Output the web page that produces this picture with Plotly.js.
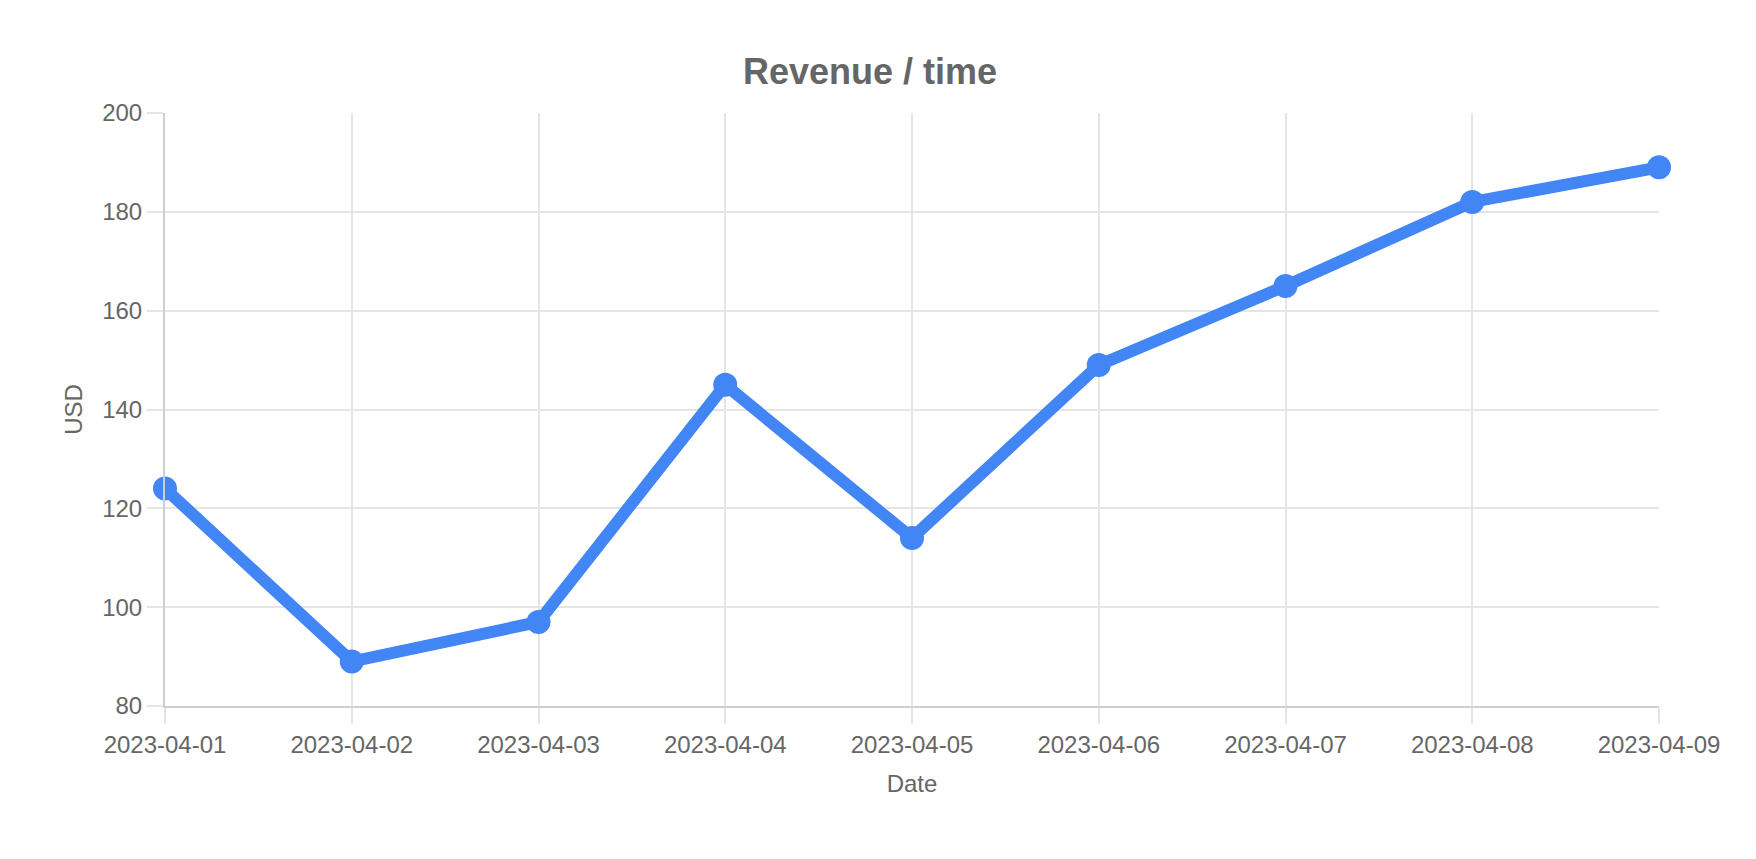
<!DOCTYPE html>
<html>
<head>
<meta charset="utf-8">
<script src="https://cdn.plot.ly/plotly-3.0.1.min.js"></script>
<style>
  html, body { margin: 0; padding: 0; background: #fff; }
  #chart { width: 1756px; height: 859px; }
</style>
</head>
<body>
<div id="chart"></div>
<script>
var dates = ['2023-04-01', '2023-04-02', '2023-04-03', '2023-04-04', '2023-04-05',
             '2023-04-06', '2023-04-07', '2023-04-08', '2023-04-09'];
var revenue = [124, 89, 97, 145, 114, 149, 165, 182, 189];
var yTicks = [80, 100, 120, 140, 160, 180, 200];

var config = { displayModeBar: false, displaylogo: false, staticPlot: true };

var data = [{
    x: dates,
    y: revenue,
    type: 'scatter',
    mode: 'lines+markers',
    line: { color: '#4285F4', width: 12 },
    marker: { color: '#4285F4', size: 24 },
    cliponaxis: false
}];

var layout = {
    width: 1756,
    height: 859,
    margin: { l: 165, r: 97, t: 113, b: 153 },
    paper_bgcolor: '#fff',
    plot_bgcolor: '#fff',
    font: { family: 'Liberation Sans, Arial, sans-serif', size: 24, color: '#666' },
    showlegend: false,
    title: {
        text: '<b>Revenue / time</b>',
        font: { size: 36, color: '#666' },
        x: 0.4955, xanchor: 'center',
        y: 0.917, yanchor: 'middle'
    },
    xaxis: {
        type: 'category',
        range: [0, dates.length - 1],
        showgrid: true,
        gridcolor: '#e5e5e5',
        gridwidth: 2,
        showline: true,
        linecolor: '#cfcfcf',
        linewidth: 2,
        ticks: 'outside',
        ticklen: 16,
        tickwidth: 2,
        tickcolor: '#e5e5e5',
        tickfont: { size: 24, color: '#666' },
        title: { text: 'Date', font: { size: 24, color: '#666' }, standoff: 18 },
        zeroline: false
    },
    yaxis: {
        range: [80, 200],
        tickvals: yTicks,
        showgrid: true,
        gridcolor: '#e5e5e5',
        gridwidth: 2,
        showline: true,
        linecolor: '#cfcfcf',
        linewidth: 2,
        ticks: 'outside',
        ticklen: 16,
        tickwidth: 2,
        tickcolor: '#e5e5e5',
        tickfont: { size: 24, color: '#666' },
        title: { text: 'USD', font: { size: 24, color: '#666' }, standoff: 13 },
        zeroline: false
    }
};

Plotly.newPlot('chart', data, layout, config);
</script>
</body>
</html>
